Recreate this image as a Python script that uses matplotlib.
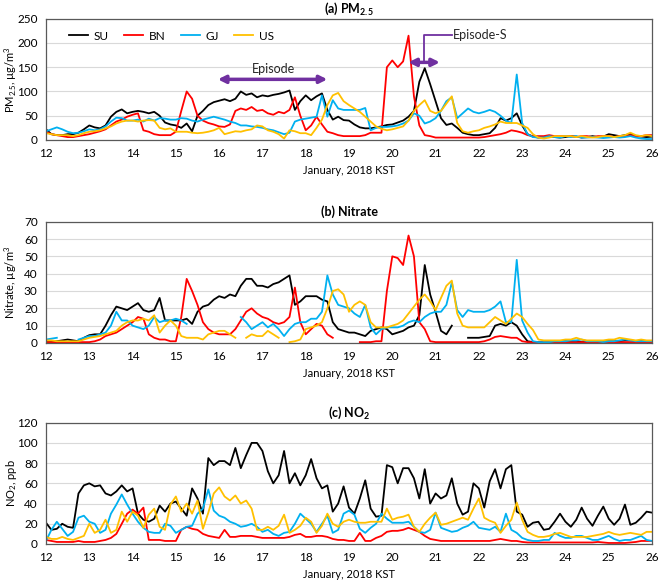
import matplotlib

matplotlib.use("Agg")
import matplotlib.pyplot as plt
import numpy as np

nan = np.nan

# 3-hourly samples, Jan 12 00h .. Jan 26 00h (KST)
DAYS = 12 + np.arange(113) / 8
SITES = ["SU", "BN", "GJ", "US"]
COLORS = ["#000000", "#FF0000", "#00B0F0", "#FFC000"]

# (a) PM2.5, ug/m3 -- one row per day
pm_su = [22, 12, 10, 10, 12, 12, 15, 22,
         30, 26, 24, 30, 48, 58, 63, 55,
         58, 60, 58, 55, 58, 50, 36, 32,
         30, 25, 34, 18, 50, 60, 72, 78,
         81, 84, 80, 85, 100, 93, 96, 88,
         92, 90, 93, 95, 98, 102, 62, 80,
         92, 82, 90, 96, 62, 42, 48, 41,
         40, 32, 26, 24, 24, 26, 28, 31,
         32, 36, 40, 48, 60, 120, 148, 115,
         80, 45, 31, 34, 25, 15, 12, 10,
         10, 12, 14, 25, 45, 40, 45, 55,
         30, 12, 7, 5, 6, 8, 6, 5,
         6, 8, 7, 5, 6, 8, 6, 7,
         12, 10, 8, 10, 12, 8, 7, 6,
         7]
pm_bn = [17, 12, 10, 8, 6, 6, 8, 10,
         12, 15, 18, 22, 30, 38, 42, 48,
         52, 55, 20, 17, 12, 10, 10, 10,
         17, 60, 100, 85, 50, 40, 35, 32,
         28, 27, 32, 60, 65, 62, 68, 60,
         62, 55, 52, 58, 55, 62, 88, 50,
         20, 30, 48, 32, 17, 14, 10, 8,
         8, 8, 8, 10, 15, 15, 15, 150,
         164, 150, 162, 215, 90, 30, 10, 8,
         5, 5, 5, 5, 5, 5, 5, 5,
         5, 6, 8, 10, 12, 15, 20, 18,
         15, 10, 8, 8, 8, 10, 8, 8,
         8, 8, 6, 8, 8, 6, 8, 8,
         8, 6, 8, 8, 10, 8, 8, 10,
         10]
pm_gj = [18, 22, 26, 22, 17, 14, 15, 18,
         22, 20, 22, 28, 38, 46, 45, 40,
         40, 42, 38, 44, 40, 45, 44, 42,
         42, 45, 44, 40, 38, 42, 45, 48,
         45, 42, 38, 35, 30, 30, 28, 27,
         25, 22, 20, 16, 12, 15, 38, 42,
         44, 46, 48, 92, 48, 82, 65, 62,
         62, 62, 62, 66, 20, 25, 27, 27,
         28, 30, 34, 40, 55, 50, 34, 38,
         45, 60, 80, 88, 45, 55, 65, 58,
         55, 58, 62, 58, 50, 40, 35, 135,
         35, 12, 6, 5, 5, 8, 6, 5,
         8, 6, 8, 5, 5, 6, 5, 4,
         5, 6, 5, 6, 8, 5, 3, 2,
         2]
pm_us = [14, 12, 10, 10, 10, 8, 10, 14,
         17, 18, 20, 24, 28, 34, 38, 40,
         40, 38, 40, 41, 40, 25, 22, 24,
         17, 17, 17, 15, 14, 15, 17, 20,
         25, 12, 15, 18, 17, 20, 22, 30,
         28, 20, 17, 12, 3, 20, 18, 14,
         14, 10, 25, 42, 72, 92, 97, 80,
         72, 65, 58, 48, 38, 28, 23, 20,
         22, 25, 28, 40, 60, 72, 82, 60,
         55, 60, 75, 90, 35, 18, 15, 18,
         20, 25, 28, 32, 38, 35, 35, 35,
         30, 25, 12, 5, 3, 5, 8, 8,
         8, 8, 6, 8, 6, 5, 6, 8,
         8, 6, 8, 10, 15, 10, 8, 10,
         8]

# (b) Nitrate, ug/m3 (nan = missing)
no3_su = [1, 1, 1, 1.5, 2, 1.5, 1, 3,
          4.5, 5, 5, 10, 16, 21, 20, 19,
          21, 23, 19, 18, 19, 26, 13, 13,
          13, 13, 14, 11, 18, 21, 22, 25,
          27, 26, 28, 27, 33, 37, 37, 33,
          33, 32, 34, 35, 37, 39, 22, 24,
          27, 27, 27, 25, 24, 12, 8, 7,
          6, 6, 5, 4, 7, 8, 9, 8,
          5, 6, 7, 9, 10, 16, 45, 28,
          18, 7, 5, 10, nan, nan, 3, 3,
          3, 3.5, 4, 10, 11, 10, 12, 10,
          5, 1, 0.5, 0.5, 0.5, 0.5, 0.5, 1,
          1, 1, 1, 0.5, 0.5, 0.5, 1, 1,
          1, 1, 1, 1.5, 1.5, 1, 1, 1,
          1]
no3_bn = [0.5, 0.5, 0.5, 0.5, 0.5, 0.5, 0.5, 0.5,
          0.5, 1, 2, 4, 5, 6, 8, 10,
          12, 15, 14, 5, 3, 2, 2, 1,
          1, 15, 37, 30, 22, 12, 8, 6,
          5, 5, 5, 8, 13, 18, 20, 17,
          15, 14, 12, 11, 12, 15, 32, 12,
          5, 8, 11, 10, 5, 3, nan, nan,
          nan, nan, 0.5, 0.5, 0.5, 1, 1, 30,
          50, 49, 45, 62, 50, 12, 8, 1,
          0.5, 0.5, 0.5, 0.5, 0.5, 0.5, 0.5, 0.5,
          0.5, 1, 2, 3.5, 4, 3.5, 3, 3,
          1, 0.5, 0.5, 0.5, 0.5, 0.5, 0.5, 0.5,
          0.5, 0.5, 0.5, 0.5, 0.5, 0.5, 0.5, 0.5,
          0.5, 0.5, 0.5, 0.5, 0.5, 0.5, 0.5, 0.5,
          0.5]
no3_gj = [2, 2.5, 3, nan, nan, nan, 2, 3,
          4, 4, 5, 6, 10, 18, 13, 13,
          10, 9, 8, 10, 15, 12, 13, 13,
          14, 13, 11, nan, nan, nan, nan, nan,
          nan, nan, nan, nan, 15, 12, 8, 10,
          12, 9, 11, 8, 4, 8, 11, 12,
          12, 14, 14, 18, 39, 28, 22, 21,
          20, 17, 15, 22, 9, 5, 8, 9,
          9, 9, 10, 12, 13, 12, 15, 17,
          18, 18, 22, 35, 19, 15, 19, 18,
          18, 18, 19, 21, 24, 12, 12, 48,
          13, 6, 1, 0.5, 0.5, 0.5, 1, 1,
          1, 1.5, 1.5, 2, 1, 1, 1, 0.5,
          1, 1, 1.5, 2, 1.5, 1, 1, 1,
          1]
no3_us = [1.5, 1.5, 1, 1, 1, 1, 1, 2,
          3, 3.5, 4, 5, 6, 7, 10, 12,
          13, 13, 14, 13, 16, 6, 10, 13,
          10, 4, 3, 3, 3, 2, 5, 6,
          7, 7, 5, 3, nan, 3, 5, 4,
          4, 7, 5, 3, nan, 0.5, 1, 2,
          8, 9, 10, 12, 20, 30, 31, 28,
          18, 22, 24, 22, 12, 9, 9, 9,
          10, 11, 13, 17, 21, 25, 28, 24,
          19, 26, 33, 36, 17, 10, 9, 9,
          9, 9, 12, 15, 13, 11, 14, 17,
          15, 11, 7.5, 2, 1.5, 1.5, 1.5, 1.5,
          2, 2, 3, 2, 1.5, 1.5, 1.5, 1.5,
          2, 2, 3, 2.5, 2, 1.5, 2, 1.5,
          1.5]

# (c) NO2, ppb
no2_su = [21, 14, 15, 20, 17, 16, 50, 58,
          60, 57, 58, 50, 48, 52, 58, 52,
          55, 30, 24, 22, 25, 38, 32, 40,
          42, 35, 28, 55, 45, 30, 85, 78,
          82, 82, 78, 95, 75, 88, 100, 100,
          92, 72, 60, 68, 92, 60, 70, 58,
          68, 84, 65, 55, 58, 32, 40, 57,
          36, 30, 45, 63, 35, 27, 28, 78,
          76, 60, 75, 75, 65, 45, 74, 40,
          50, 45, 48, 65, 40, 29, 32, 60,
          55, 36, 62, 74, 55, 74, 78, 32,
          29, 17, 21, 22, 14, 15, 22, 30,
          22, 17, 24, 36, 25, 18, 28, 37,
          25, 19, 25, 39, 19, 21, 26, 32,
          31]
no2_bn = [4, 3, 2, 2, 2, 2, 3, 2,
          2, 2, 3, 4, 6, 10, 20, 30,
          34, 30, 36, 4, 4, 4, 3, 3,
          3, 14, 17, 15, 14, 10, 8, 7,
          6, 14, 7, 7, 8, 8, 8, 7,
          6, 6, 6, 6, 6, 7, 9, 10,
          7, 7, 8, 8, 7, 5, 4, 4,
          3, 3, 11, 3, 3, 6, 8, 12,
          13, 13, 14, 16, 14, 12, 8, 5,
          4, 3, 3, 3, 3, 3, 3, 3,
          3, 3, 3, 4, 5, 4, 3, 3,
          2, 1.5, 1.5, 1.5, 1.5, 1.5, 1.5, 1.5,
          1.5, 1.5, 1.5, 1.5, 1.5, 1.5, 2, 1.5,
          1, 1, 1, 1, 1.5, 2, 3, 3,
          3]
no2_gj = [3, 14, 22, 15, 8, 12, 26, 28,
          22, 20, 11, 14, 30, 39, 49, 39,
          30, 22, 16, 12, 11, 11, 20, 18,
          11, 14, 17, 18, 30, 35, 54, 33,
          28, 26, 22, 20, 17, 18, 20, 17,
          12, 14, 10, 8, 11, 12, 20, 30,
          25, 20, 12, 20, 28, 11, 14, 30,
          33, 29, 15, 11, 16, 20, 30, 25,
          21, 21, 21, 22, 17, 12, 11, 14,
          31, 16, 14, 12, 13, 16, 18, 22,
          16, 15, 14, 17, 12, 30, 14, 11,
          6, 4, 3, 3, 4, 4, 11, 8,
          6, 6, 8, 8, 6, 4, 4, 6,
          8, 5, 3, 4, 4, 6, 8, 4,
          3]
no2_us = [7, 5, 5, 7, 5, 4, 6, 8,
          20, 11, 14, 24, 11, 14, 32, 22,
          32, 28, 16, 29, 35, 17, 14, 39,
          47, 32, 40, 30, 43, 15, 31, 50,
          56, 47, 43, 48, 40, 43, 35, 14,
          14, 17, 14, 18, 29, 11, 14, 18,
          26, 22, 11, 18, 30, 20, 17, 22,
          24, 22, 21, 21, 22, 22, 22, 35,
          24, 26, 27, 29, 17, 12, 20, 26,
          31, 19, 20, 22, 24, 26, 24, 35,
          45, 26, 23, 21, 11, 18, 24, 41,
          24, 12, 9, 7, 7, 8, 10, 11,
          9, 7, 7, 7, 7, 8, 9, 10,
          12, 10, 9, 10, 11, 10, 9, 12,
          12]

PANELS = [
    (r"(a) PM$_\mathbf{2.5}$", "PM$_{2.5}$, µg/m$^3$", 250, 50, [pm_su, pm_bn, pm_gj, pm_us]),
    ("(b) Nitrate", "Nitrate, µg/m$^3$", 70, 10, [no3_su, no3_bn, no3_gj, no3_us]),
    (r"(c) NO$_\mathbf{2}$", "NO$_2$, ppb", 120, 20, [no2_su, no2_bn, no2_gj, no2_us]),
]
BOTTOMS = [0.7611, 0.4147, 0.0717]
PURPLE = "#7030A0"

plt.rcParams["font.family"] = ["Lato", "DejaVu Sans"]
plt.rcParams["mathtext.fontset"] = "custom"
plt.rcParams["mathtext.rm"] = "Lato"
plt.rcParams["mathtext.it"] = "Lato:italic"
plt.rcParams["mathtext.bf"] = "Lato:bold"

fig = plt.figure(figsize=(6.61, 5.86), dpi=100)
axes = []
for (title, ylabel, ymax, ystep, series), bottom in zip(PANELS, BOTTOMS):
    ax = fig.add_axes([0.0696, bottom, 0.9168, 0.207])
    for name, color, vals in zip(SITES, COLORS, series):
        assert len(vals) == len(DAYS), (title, name, len(vals))
        ax.plot(DAYS, vals, color=color, lw=1.3, label=name)
    ax.set_xlim(12, 26)
    ax.set_ylim(0, ymax)
    ax.set_xticks(range(12, 27))
    ax.set_yticks(np.arange(0, ymax + 1, ystep))
    ax.yaxis.grid(True, color="#D9D9D9", lw=0.8)
    ax.set_axisbelow(True)
    for s in ax.spines.values():
        s.set_color("#595959")
        s.set_linewidth(0.9)
    ax.tick_params(length=0, labelsize=8.5, colors="#000000")
    ax.tick_params(axis="x", pad=6)
    ax.tick_params(axis="y", pad=6)
    ax.set_title(title, fontsize=9, fontweight="bold", pad=4)
    ax.set_xlabel("January, 2018 KST", fontsize=8, labelpad=4)
    ax.set_ylabel(ylabel, fontsize=8)
    ax.yaxis.set_label_coords(-0.045, 0.5)
    axes.append(ax)

ax = axes[0]
ax.legend(loc="upper left", bbox_to_anchor=(0.02, 0.99), ncol=4, frameon=False,
          fontsize=8.5, handlelength=1.6, handletextpad=0.5, columnspacing=1.3)

# episode markers
ax.annotate("", xy=(15.97, 125), xytext=(18.5, 125),
            arrowprops=dict(arrowstyle="<|-|>", color=PURPLE, lw=2.5, mutation_scale=11,
                            shrinkA=0, shrinkB=0))
ax.text(17.25, 147, "Episode", fontsize=9, ha="center", va="center", color="#262626")
ax.annotate("", xy=(20.37, 160), xytext=(21.1, 160),
            arrowprops=dict(arrowstyle="<|-|>", color=PURPLE, lw=2.5, mutation_scale=11,
                            shrinkA=0, shrinkB=0))
ax.plot([20.74, 20.74, 21.37], [160, 217, 217], color=PURPLE, lw=1.3)
ax.text(21.4, 217, "Episode-S", fontsize=9, ha="left", va="center", color="#262626")

fig.savefig("out.png", dpi=100)
